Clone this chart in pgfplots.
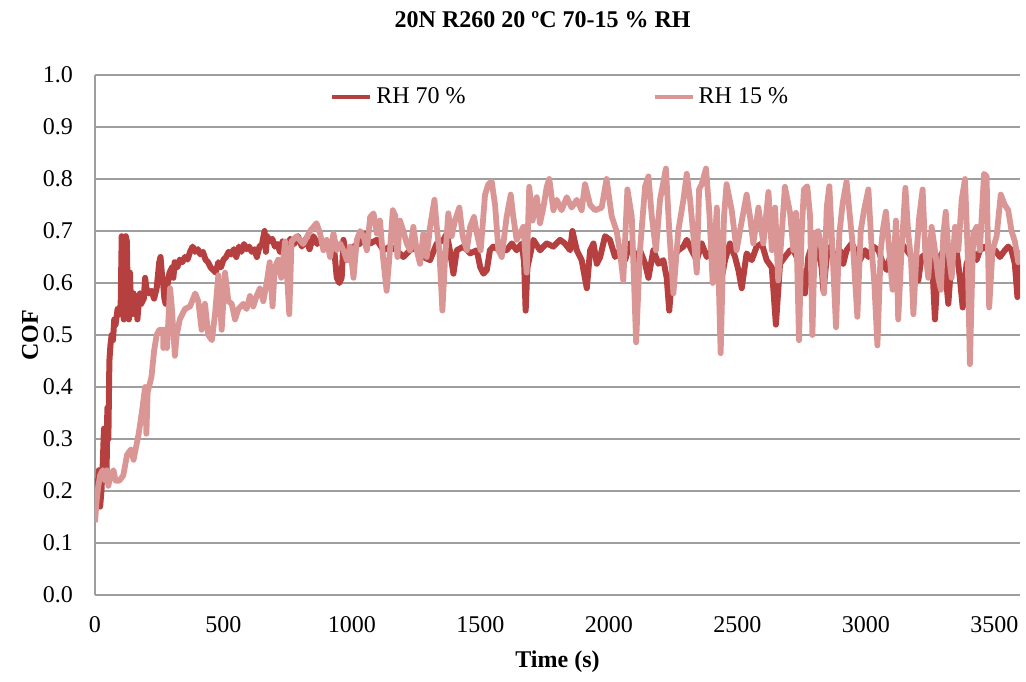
\documentclass[border=0pt]{standalone}
\usepackage{fontspec}
\setmainfont{Liberation Serif}
\usepackage{pgfplots}
\pgfplotsset{compat=1.18}
\definecolor{rhdark}{RGB}{181,64,63}
\definecolor{rhlight}{RGB}{217,150,148}
\definecolor{gridgray}{RGB}{158,158,158}

% COF vs time, RH 70 %
\pgfplotstableread{
t cof
0 0.17
5 0.22
10 0.18
15 0.24
20 0.17
25 0.20
30 0.25
35 0.32
40 0.30
45 0.23
48 0.36
52 0.30
56 0.45
60 0.48
65 0.50
70 0.49
75 0.53
80 0.52
88 0.55
95 0.54
100 0.56
104 0.69
108 0.57
112 0.53
116 0.58
120 0.69
124 0.68
128 0.55
132 0.53
136 0.62
140 0.56
145 0.54
150 0.58
155 0.55
160 0.57
165 0.53
170 0.56
175 0.58
180 0.56
190 0.57
195 0.61
200 0.59
210 0.58
220 0.585
230 0.57
240 0.59
250 0.64
255 0.65
260 0.62
265 0.60
270 0.57
275 0.56
280 0.59
290 0.62
300 0.63
305 0.61
310 0.64
320 0.63
330 0.645
340 0.64
350 0.65
360 0.645
370 0.66
380 0.67
390 0.66
400 0.665
410 0.655
420 0.66
430 0.645
440 0.64
450 0.63
460 0.625
470 0.62
480 0.64
490 0.63
500 0.645
510 0.65
520 0.66
530 0.655
540 0.665
550 0.65
560 0.67
570 0.66
580 0.675
590 0.665
600 0.67
610 0.66
620 0.665
630 0.65
640 0.67
650 0.675
660 0.70
665 0.66
670 0.69
680 0.68
690 0.685
700 0.67
710 0.675
720 0.66
730 0.68
745 0.66
760 0.685
775 0.675
790 0.69
805 0.67
820 0.685
835 0.665
850 0.69
865 0.675
876 0.683
895 0.67
915 0.665
928 0.68
941 0.61
951 0.60
960 0.61
967 0.683
980 0.644
993 0.663
1006 0.67
1032 0.676
1051 0.695
1071 0.676
1097 0.683
1122 0.663
1148 0.67
1174 0.663
1200 0.65
1226 0.663
1252 0.67
1278 0.65
1304 0.644
1330 0.676
1356 0.683
1369 0.695
1382 0.66
1395 0.618
1408 0.663
1434 0.67
1460 0.657
1486 0.663
1499 0.631
1512 0.618
1525 0.625
1537 0.663
1550 0.67
1576 0.663
1602 0.663
1622 0.676
1641 0.663
1661 0.676
1670 0.64
1676 0.547
1683 0.63
1706 0.683
1732 0.663
1758 0.676
1784 0.67
1810 0.683
1829 0.676
1849 0.663
1858 0.70
1875 0.663
1894 0.644
1914 0.59
1927 0.663
1940 0.676
1953 0.637
1966 0.65
1985 0.69
2004 0.683
2024 0.65
2043 0.663
2063 0.644
2082 0.676
2102 0.644
2121 0.663
2141 0.637
2154 0.61
2173 0.663
2193 0.637
2212 0.644
2225 0.61
2235 0.547
2251 0.65
2270 0.663
2290 0.67
2303 0.683
2322 0.663
2342 0.644
2361 0.676
2381 0.65
2400 0.663
2420 0.637
2439 0.61
2452 0.644
2471 0.676
2491 0.65
2504 0.625
2517 0.59
2536 0.657
2556 0.644
2575 0.67
2595 0.676
2614 0.644
2634 0.63
2650 0.52
2666 0.637
2685 0.65
2705 0.663
2718 0.663
2731 0.65
2744 0.63
2763 0.58
2776 0.65
2789 0.67
2802 0.695
2815 0.663
2828 0.63
2835 0.585
2848 0.65
2861 0.67
2880 0.65
2899 0.663
2912 0.637
2925 0.663
2945 0.676
2958 0.663
2977 0.644
2997 0.663
3010 0.65
3029 0.67
3049 0.663
3062 0.644
3081 0.625
3101 0.663
3120 0.67
3139 0.676
3159 0.663
3178 0.65
3191 0.637
3204 0.605
3217 0.65
3237 0.657
3256 0.663
3269 0.53
3282 0.644
3302 0.663
3321 0.56
3334 0.65
3353 0.663
3366 0.61
3377 0.553
3392 0.637
3412 0.663
3431 0.644
3444 0.663
3464 0.67
3483 0.657
3503 0.663
3522 0.65
3541 0.663
3554 0.67
3567 0.663
3580 0.637
3590 0.573
3600 0.637
}\rhseventy

% COF vs time, RH 15 %
\pgfplotstableread{
t cof
0 0.14
6 0.18
13 0.21
20 0.23
30 0.24
40 0.22
46 0.24
52 0.21
60 0.23
72 0.24
80 0.22
95 0.22
110 0.23
125 0.27
140 0.28
150 0.26
170 0.31
182 0.35
195 0.40
200 0.31
205 0.39
220 0.42
230 0.47
240 0.50
250 0.51
265 0.51
266 0.475
272 0.51
280 0.475
292 0.59
298 0.56
311 0.46
318 0.50
330 0.53
350 0.55
370 0.555
390 0.58
402 0.565
415 0.51
428 0.56
441 0.50
455 0.49
467 0.54
480 0.615
493 0.51
506 0.62
519 0.565
532 0.56
545 0.53
558 0.55
577 0.56
590 0.55
603 0.575
616 0.555
629 0.575
642 0.59
655 0.565
668 0.60
680 0.64
691 0.555
700 0.63
713 0.645
725 0.61
740 0.68
756 0.54
765 0.68
785 0.69
810 0.675
837 0.70
862 0.715
876 0.695
889 0.663
902 0.683
915 0.65
928 0.695
941 0.663
954 0.676
967 0.663
980 0.644
993 0.67
1006 0.61
1019 0.683
1032 0.70
1045 0.69
1058 0.663
1071 0.727
1084 0.734
1097 0.695
1109 0.72
1122 0.644
1135 0.585
1148 0.663
1159 0.74
1168 0.73
1177 0.65
1187 0.72
1200 0.70
1213 0.676
1226 0.663
1239 0.708
1252 0.663
1265 0.637
1278 0.695
1291 0.65
1304 0.708
1321 0.76
1330 0.708
1340 0.663
1352 0.547
1362 0.644
1375 0.734
1388 0.69
1401 0.72
1418 0.745
1431 0.69
1447 0.663
1460 0.708
1475 0.727
1486 0.695
1501 0.663
1518 0.77
1531 0.79
1544 0.795
1557 0.75
1570 0.663
1583 0.65
1602 0.727
1618 0.77
1628 0.727
1641 0.683
1654 0.695
1667 0.708
1680 0.62
1690 0.785
1703 0.72
1719 0.765
1732 0.715
1745 0.745
1758 0.785
1768 0.80
1784 0.74
1797 0.76
1816 0.74
1836 0.765
1855 0.745
1875 0.76
1894 0.74
1907 0.79
1927 0.75
1946 0.74
1972 0.745
1991 0.80
2011 0.728
2030 0.70
2043 0.66
2056 0.605
2072 0.78
2089 0.728
2106 0.486
2121 0.663
2141 0.786
2154 0.805
2167 0.728
2183 0.663
2199 0.76
2222 0.82
2235 0.70
2251 0.58
2270 0.70
2290 0.76
2303 0.81
2316 0.76
2329 0.69
2342 0.62
2351 0.78
2361 0.79
2378 0.82
2391 0.735
2404 0.60
2420 0.745
2435 0.465
2448 0.728
2458 0.79
2478 0.74
2497 0.663
2513 0.708
2536 0.77
2549 0.728
2562 0.676
2582 0.745
2601 0.676
2621 0.775
2634 0.663
2647 0.745
2659 0.605
2672 0.69
2685 0.785
2705 0.735
2718 0.663
2728 0.735
2740 0.49
2750 0.695
2759 0.78
2772 0.786
2783 0.728
2792 0.50
2802 0.695
2815 0.70
2828 0.663
2837 0.58
2848 0.747
2858 0.786
2867 0.695
2884 0.515
2897 0.695
2910 0.754
2925 0.795
2938 0.728
2951 0.663
2967 0.535
2980 0.70
2993 0.74
3010 0.78
3023 0.663
3033 0.60
3045 0.48
3058 0.663
3068 0.708
3078 0.737
3091 0.663
3104 0.587
3117 0.72
3126 0.53
3139 0.663
3154 0.783
3165 0.695
3176 0.644
3185 0.54
3198 0.663
3208 0.728
3221 0.78
3231 0.663
3243 0.61
3256 0.708
3269 0.663
3282 0.61
3292 0.587
3302 0.695
3311 0.737
3321 0.663
3334 0.61
3347 0.708
3360 0.663
3373 0.76
3386 0.80
3396 0.663
3405 0.444
3418 0.695
3431 0.708
3444 0.663
3460 0.81
3470 0.805
3480 0.553
3493 0.663
3509 0.69
3525 0.77
3541 0.75
3554 0.74
3567 0.70
3580 0.68
3593 0.64
3602 0.663
}\rhfifteen

\begin{document}
\begin{tikzpicture}
\begin{axis}[
    scale only axis,
    width=462.5pt, height=260pt,
    xmin=0, xmax=3600,
    ymin=0, ymax=1,
    xtick={0,500,1000,1500,2000,2500,3000,3500},
    ytick={0,0.1,0.2,0.3,0.4,0.5,0.6,0.7,0.8,0.9,1.0},
    axis lines*=left,
    axis line style={-, draw=gridgray, line width=0.85pt},
    ymajorgrids,
    grid style={draw=gridgray, line width=0.85pt},
    major tick length=0pt,
    tick label style={font=\fontsize{12}{14}\selectfont},
    /pgf/number format/assume math mode=true,
    x tick label style={/pgf/number format/1000 sep={}, yshift=-7pt},
    y tick label style={/pgf/number format/.cd, fixed, fixed zerofill, precision=1, /tikz/.cd, xshift=-7.5pt},
    title={20N R260 20 ºC 70-15 \% RH},
    title style={font=\fontsize{12}{14}\selectfont\bfseries, at={(axis description cs:0.484,1.083)}, anchor=center},
    xlabel={Time (s)},
    xlabel style={font=\fontsize{12}{14}\selectfont\bfseries, at={(axis description cs:0.5,-0.129)}, anchor=center},
    ylabel={COF},
    ylabel style={font=\fontsize{12}{14}\selectfont\bfseries, at={(axis description cs:-0.0703,0.5)}, anchor=center, rotate=0},
    legend columns=2,
    legend style={draw=none, fill=none, font=\fontsize{12}{14}\selectfont,
        at={(axis description cs:0.504,0.958)}, anchor=center,
        /tikz/every even column/.append style={column sep=91.5pt}},
    legend image code/.code={\draw[#1, line width=2pt] (0pt,0pt) -- (19pt,0pt);},
    every axis plot/.append style={line join=round},
]
\addplot[rhdark, line width=3pt] table[x=t, y=cof] {\rhseventy};
\addlegendentry{RH 70 \%}
\addplot[rhlight, line width=2.9pt] table[x=t, y=cof] {\rhfifteen};
\addlegendentry{RH 15 \%}
\end{axis}
\pgfresetboundingbox
\path (-47.5pt,-43pt) rectangle (465.5pt,297.5pt);
\end{tikzpicture}
\end{document}
